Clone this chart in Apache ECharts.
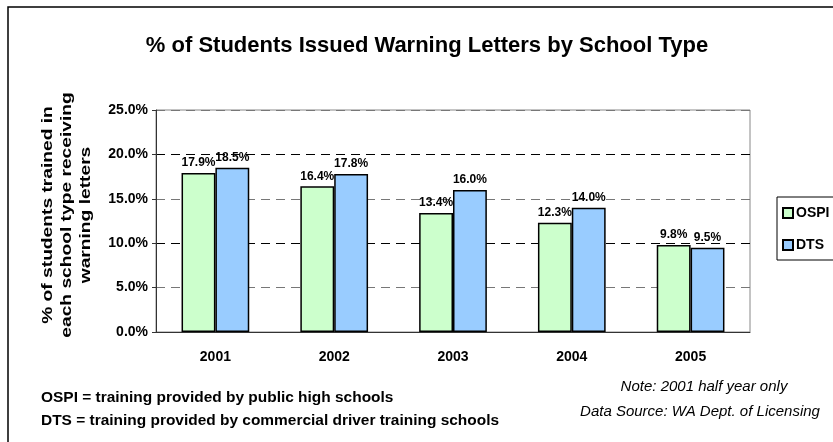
<!DOCTYPE html>
<html lang="en">
<head>
    <meta charset="UTF-8">
    <title>Warning Letters by School Type</title>
    <style>
        html, body { margin: 0; padding: 0; background: #fff; }
        #chart { width: 833px; height: 442px; }
    </style>
</head>
<body>
    <div id="chart"></div>
    <script src="https://cdn.jsdelivr.net/npm/echarts@6/dist/echarts.min.js"></script>
    <script>
        const years = ['2001', '2002', '2003', '2004', '2005']
        const ospi = [17.9, 16.4, 13.4, 12.3, 9.8]
        const dts = [18.5, 17.8, 16.0, 14.0, 9.5]

        const font = 'Liberation Sans, Arial, sans-serif'

        const barLabel = {
            show: true,
            position: 'top',
            distance: 4,
            color: '#000',
            fontFamily: font,
            fontWeight: 'bold',
            fontSize: 12,
            formatter: p => p.value.toFixed(1) + '%'
        }

        const chart = echarts.init(document.getElementById('chart'))
        chart.setOption({
            animation: false,
            title: {
                text: '% of Students Issued Warning Letters by School Type',
                left: 422,
                textAlign: 'center',
                top: 30,
                textStyle: { fontFamily: font, fontWeight: 'bold', fontSize: 22, color: '#000' }
            },
            legend: {
                orient: 'vertical',
                left: 777,
                top: 197,
                padding: [9, 8, 8, 5],
                itemGap: 18,
                itemWidth: 10,
                itemHeight: 10,
                icon: 'rect',
                borderColor: '#000',
                borderWidth: 1,
                textStyle: { fontFamily: font, fontWeight: 'bold', fontSize: 14, color: '#000', padding: [0, 0, 0, -2] },
                data: ['OSPI', 'DTS']
            },
            grid: {
                left: 156, top: 110, right: 83, bottom: 110,
                show: true, borderColor: '#888', borderWidth: 1
            },
            xAxis: {
                type: 'category',
                data: years,
                axisLine: { lineStyle: { color: '#333' } },
                axisTick: { length: 5, lineStyle: { color: '#333' } },
                axisLabel: { margin: 18, color: '#000', fontFamily: font, fontWeight: 'bold', fontSize: 14 }
            },
            yAxis: {
                type: 'value',
                min: 0,
                max: 25,
                interval: 5,
                axisLine: { show: true, lineStyle: { color: '#333' } },
                axisTick: { show: true, length: 4, lineStyle: { color: '#333' } },
                axisLabel: {
                    margin: 8, color: '#000', fontFamily: font, fontWeight: 'bold', fontSize: 14,
                    formatter: v => v.toFixed(1) + '%'
                },
                splitLine: { lineStyle: { color: ['#000', '#777'], type: [9, 6], width: 1 } }
            },
            series: [
                {
                    name: 'OSPI', type: 'bar', data: ospi,
                    barGap: '0%', barCategoryGap: '43%',
                    itemStyle: { color: '#CCFFCC', borderColor: '#000', borderWidth: 1.5 },
                    label: barLabel
                },
                {
                    name: 'DTS', type: 'bar', data: dts,
                    itemStyle: { color: '#99CCFF', borderColor: '#000', borderWidth: 1.5 },
                    label: barLabel
                }
            ],
            graphic: [
                {
                    type: 'rect', silent: true, z: -1,
                    shape: { x: 8, y: 7, width: 840, height: 450 },
                    style: { fill: 'none', stroke: '#000', lineWidth: 1.5 }
                },
                {
                    // y axis title, stretched along its length like the original
                    type: 'text', x: 67, y: 215, rotation: Math.PI / 2, scaleX: 1.28,
                    style: {
                        text: '% of students trained in\neach school type receiving\nwarning letters',
                        fill: '#000', align: 'center', verticalAlign: 'middle', lineHeight: 19,
                        font: 'bold 15px ' + font
                    }
                },
                {
                    type: 'text', x: 41, y: 398, scaleX: 1.03,
                    style: { text: 'OSPI = training provided by public high schools', fill: '#000',
                        verticalAlign: 'middle', font: 'bold 15px ' + font }
                },
                {
                    type: 'text', x: 41, y: 421, scaleX: 1.03,
                    style: { text: 'DTS = training provided by commercial driver training schools', fill: '#000',
                        verticalAlign: 'middle', font: 'bold 15px ' + font }
                },
                {
                    type: 'text', x: 704, y: 387,
                    style: { text: 'Note: 2001 half year only', fill: '#000', align: 'center', verticalAlign: 'middle',
                        font: 'italic 15px ' + font }
                },
                {
                    type: 'text', x: 700, y: 412,
                    style: { text: 'Data Source: WA Dept. of Licensing', fill: '#000', align: 'center', verticalAlign: 'middle',
                        font: 'italic 15px ' + font }
                }
            ]
        })
    </script>
</body>
</html>
